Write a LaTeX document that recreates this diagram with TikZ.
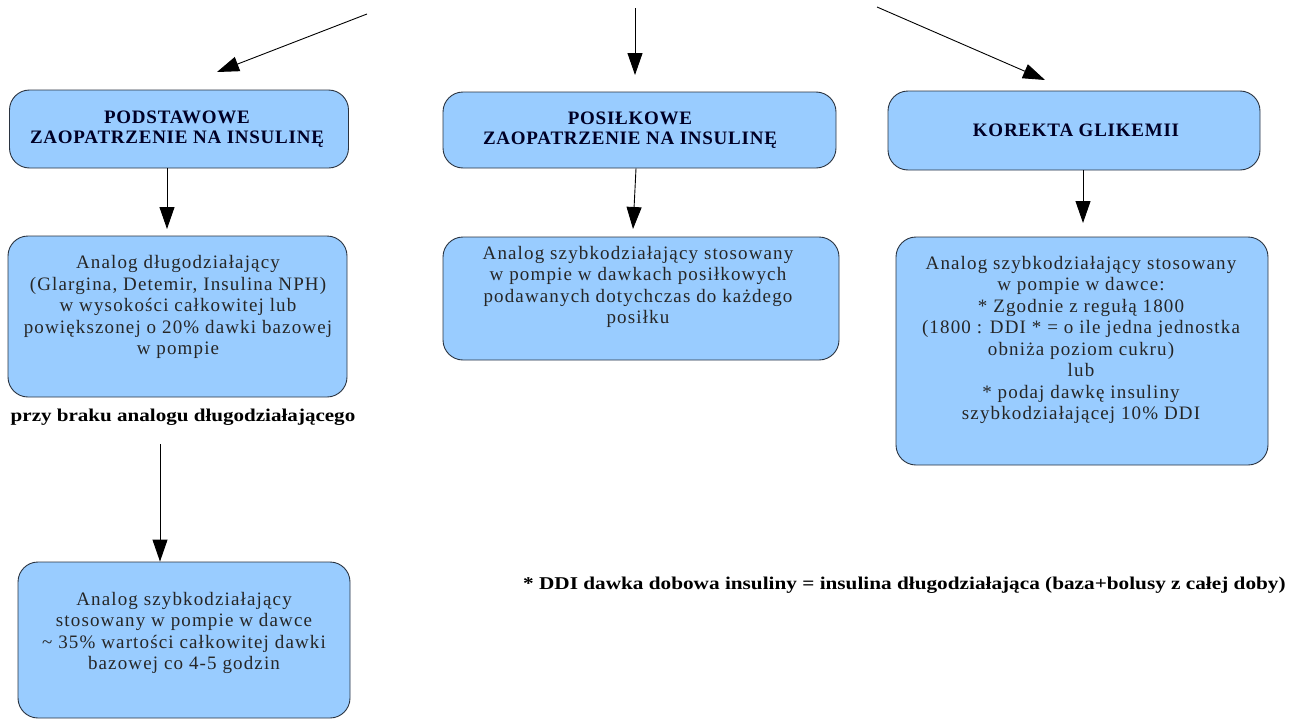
\documentclass[tikz,border=0pt]{standalone}
\usepackage{fontspec}
\setmainfont{Liberation Serif}[BoldFont={Liberation Serif Bold}]
\newfontfamily\bodyfont{Liberation Serif}[LetterSpace=6]
\newfontfamily\headfont{Liberation Serif Bold}[LetterSpace=4]
\newfontfamily\notefont{Liberation Serif Bold}
\usetikzlibrary{arrows.meta}
\definecolor{boxfill}{HTML}{99CCFF}
\definecolor{boxline}{HTML}{2A3340}
\tikzset{
  box/.style={draw=boxline, line width=0.9pt, fill=boxfill, rounded corners=20pt, inner sep=0pt},
  head/.style={align=center, font=\headfont\fontsize{19}{20}\selectfont, text=black!85!blue},
  body/.style={align=center, font=\bodyfont\fontsize{19}{21.5}\selectfont, inner sep=0pt, text=black!85},
  arr/.style={line width=0.9pt, -{Triangle[length=22pt,width=15pt]}},
}
\begin{document}
\begin{tikzpicture}[x=1pt,y=-1pt]
\useasboundingbox (0,0) rectangle (1292,720);
% header boxes
\node[box, minimum width=339pt, minimum height=78pt] (a) at (179,129) {};
\node[head] (at) at (177,129) {PODSTAWOWE\\ZAOPATRZENIE NA INSULINĘ};
\node[box, minimum width=393pt, minimum height=76pt] (b) at (639.5,130) {};
\node[head] (bt) at (630,130) {POSIŁKOWE\\ZAOPATRZENIE NA INSULINĘ};
\node[box, minimum width=372pt, minimum height=79pt] (c) at (1074,130.5) {};
\node[head] (ct) at (1076,130) {KOREKTA GLIKEMII};
% second row
\node[box, minimum width=339pt, minimum height=161pt] (d) at (177.5,316.5) {};
\node[body] (dt) at (178,307) {Analog długodziałający\\(Glargina, Detemir, Insulina NPH)\\w wysokości całkowitej lub\\powiększonej o 20\% dawki bazowej\\w pompie};
\node[box, minimum width=396pt, minimum height=123pt] (e) at (641,298.5) {};
\node[body] (et) at (638,287) {Analog szybkodziałający stosowany\\w pompie w dawkach posiłkowych\\podawanych dotychczas do każdego\\posiłku};
\node[box, minimum width=372pt, minimum height=228pt] (f) at (1082,351) {};
\node[body] (ft) at (1081,340) {Analog szybkodziałający stosowany\\w pompie w dawce:\\* Zgodnie z regułą 1800\\(1800 : DDI * = o ile jedna jednostka\\obniża poziom cukru)\\lub\\* podaj dawkę insuliny\\szybkodziałającej 10\% DDI};
% third row
\node[box, minimum width=332pt, minimum height=156pt] (g) at (184,640) {};
\node[body] (gt) at (184,633) {Analog szybkodziałający\\stosowany w pompie w dawce\\\textasciitilde{} 35\% wartości całkowitej dawki\\bazowej co 4-5 godzin};
% labels
\node[font=\notefont\fontsize{18}{20}\selectfont, inner sep=0pt] (lbl) at (183,417) {\scalebox{1.17}[1]{przy braku analogu długodziałającego}};
\node[font=\notefont\fontsize{18}{20}\selectfont, inner sep=0pt, anchor=west] (note) at (523,585) {\scalebox{1.18}[1]{* DDI dawka dobowa insuliny = insulina długodziałająca (baza+bolusy z całej doby)}};
% free ends of top arrows
\coordinate (s1) at (367,14);
\coordinate (t1) at (217,72);
\coordinate (s2) at (635,8);
\coordinate (t2) at (635,75);
\coordinate (s3) at (877,7);
\coordinate (t3) at (1045,80);
\draw[arr] (s1) -- (t1);
\draw[arr] (s2) -- (t2);
\draw[arr] (s3) -- (t3);
% vertical connectors
\draw[arr] (a.south -| 167,0) -- (167,229);
\draw[arr] (b.south -| 636,0) -- (633,229);
\draw[arr] (c.south -| 1083,0) -- (1083,223);
\draw[arr] (160,444) -- (g.north -| 160,0);
\end{tikzpicture}
\end{document}
